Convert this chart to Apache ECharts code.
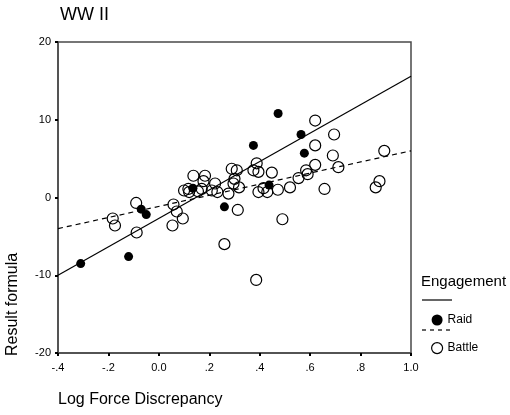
<!DOCTYPE html>
<html>
<head>
<meta charset="utf-8">
<script src="https://cdn.jsdelivr.net/npm/echarts@6/dist/echarts.min.js"></script>
<style>
  html, body { margin: 0; padding: 0; background: #fff; }
  #chart { width: 510px; height: 415px; }
</style>
</head>
<body>
<div id="chart"></div>
<script>
// values
const raid = [
  [-0.31, -8.5], [-0.12, -7.6], [-0.07, -1.5], [-0.05, -2.2], [0.135, 1.2],
  [0.26, -1.2], [0.375, 6.7], [0.437, 1.6], [0.473, 10.8], [0.564, 8.1], [0.577, 5.7]
]
const battle = [
  [-0.183, -2.7], [-0.174, -3.6], [-0.09, -0.7], [-0.088, -4.5],
  [0.058, -0.9], [0.071, -1.8], [0.095, -2.7], [0.054, -3.6],
  [0.10, 0.9], [0.117, 1.1], [0.12, 0.7], [0.137, 2.8], [0.183, 2.8], [0.177, 2.1],
  [0.17, 1.1], [0.155, 0.8], [0.223, 1.8], [0.21, 0.9], [0.232, 0.7], [0.276, 0.5],
  [0.26, -6.0], [0.289, 3.7], [0.309, 3.5], [0.30, 2.4], [0.296, 1.8], [0.318, 1.3],
  [0.313, -1.6], [0.388, 4.4], [0.375, 3.5], [0.395, 3.3], [0.448, 3.2], [0.395, 0.7],
  [0.43, 0.7], [0.415, 1.2], [0.386, -10.6], [0.472, 1.0], [0.49, -2.8], [0.52, 1.3],
  [0.554, 2.5], [0.584, 3.5], [0.59, 3.0], [0.62, 9.9], [0.62, 6.7], [0.62, 4.2],
  [0.657, 1.1], [0.695, 8.1], [0.69, 5.4], [0.712, 3.9], [0.86, 1.3], [0.875, 2.1],
  [0.894, 6.0]
]
// fit lines, end points
const raidFit = [[-0.4, -10.0], [1.0, 15.6]]
const battleFit = [[-0.4, -4.0], [1.0, 6.0]]

const font = 'Liberation Sans, Arial, sans-serif'
const axisColor = '#4a4a4a'

const chart = echarts.init(document.getElementById('chart'))
chart.setOption({
  animation: false,
  textStyle: { fontFamily: font },
  grid: {
    left: 58, right: 99, top: 42, bottom: 62,
    show: true, borderColor: axisColor, borderWidth: 1.5
  },
  legend: {
    orient: 'vertical',
    left: 426,
    top: 309,
    itemGap: 16,
    itemWidth: 11,
    itemHeight: 11,
    itemStyle: { borderWidth: 1.2 },
    textStyle: { fontFamily: font, fontSize: 12, color: '#000' },
    data: ['Raid', 'Battle']
  },
  xAxis: {
    type: 'value',
    min: -0.4, max: 1.0, interval: 0.2,
    axisLine: { show: true, onZero: false, lineStyle: { color: axisColor, width: 1.5 } },
    axisTick: { show: true, length: 3, lineStyle: { color: '#000', width: 2 } },
    splitLine: { show: false },
    axisLabel: {
      color: '#000', fontSize: 11, margin: 9,
      formatter: v => {
        const s = v.toFixed(1)
        if (s === '0.0' || s === '1.0') return s
        return s.replace('0.', '.')
      }
    }
  },
  yAxis: {
    type: 'value',
    min: -20, max: 20, interval: 10,
    axisLine: { show: true, onZero: false, lineStyle: { color: axisColor, width: 1.5 } },
    axisTick: { show: true, length: 3, lineStyle: { color: '#000', width: 2 } },
    splitLine: { show: false },
    axisLabel: { color: '#000', fontSize: 11, margin: 7 }
  },
  graphic: [
    { type: 'text', left: 60, top: 6, style: { text: 'WW II', font: '18px ' + font, fill: '#000' } },
    { type: 'text', left: 58, top: 392, style: { text: 'Log Force Discrepancy', font: '16px ' + font, fill: '#000' } },
    { type: 'text', x: 5, y: 356, rotation: Math.PI / 2,
      style: { text: 'Result formula', font: '16px ' + font, fill: '#000', textAlign: 'left', textVerticalAlign: 'top' } },
    { type: 'text', left: 421, top: 274, style: { text: 'Engagement', font: '15px ' + font, fill: '#000' } },
    { type: 'line', shape: { x1: 422, y1: 300, x2: 452, y2: 300 }, style: { stroke: '#000', lineWidth: 1.2 } },
    { type: 'line', shape: { x1: 422, y1: 330, x2: 452, y2: 330 }, style: { stroke: '#000', lineWidth: 1.2, lineDash: [4, 4] } }
  ],
  series: [
    {
      name: 'Raid',
      type: 'scatter',
      symbol: 'circle',
      symbolSize: 9,
      itemStyle: { color: '#000', opacity: 1 },
      data: raid
    },
    {
      name: 'Battle',
      type: 'scatter',
      symbol: 'circle',
      symbolSize: 11,
      itemStyle: { color: 'rgba(255,255,255,0)', borderColor: '#000', borderWidth: 1.2, opacity: 1 },
      data: battle
    },
    {
      name: 'Raid fit',
      type: 'line',
      showSymbol: false,
      silent: true,
      lineStyle: { color: '#000', width: 1.2 },
      data: raidFit
    },
    {
      name: 'Battle fit',
      type: 'line',
      showSymbol: false,
      silent: true,
      lineStyle: { color: '#000', width: 1.2, type: [5, 4] },
      data: battleFit
    }
  ]
})
</script>
</body>
</html>
